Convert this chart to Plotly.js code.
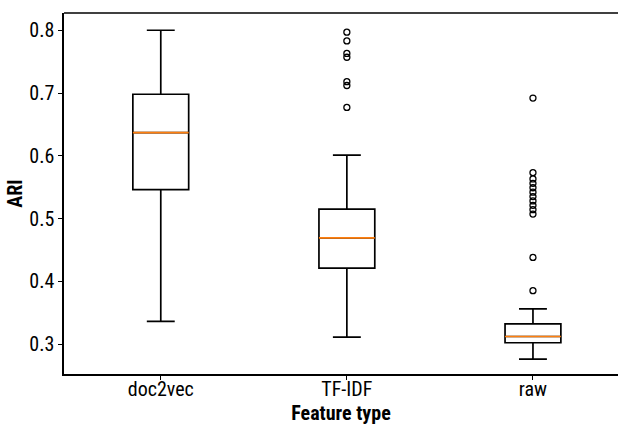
<!DOCTYPE html>
<html>
<head>
<meta charset="utf-8">
<script src="https://cdn.plot.ly/plotly-3.0.1.min.js"></script>
<style>html,body{margin:0;padding:0;background:#fff;}#chart{width:618px;height:426px;}</style>
</head>
<body>
<div id="chart"></div>
<script>
// Data
var categories = ['doc2vec', 'TF-IDF', 'raw'];
var lowerWhisker = [0.336, 0.311, 0.276];
var q1Values = [0.546, 0.421, 0.302];
var medianValues = [0.637, 0.469, 0.312];
var q3Values = [0.698, 0.515, 0.332];
var upperWhisker = [0.800, 0.601, 0.356];
var outliersDoc2vec = [];
var outliersTfidf = [0.797, 0.783, 0.763, 0.757, 0.718, 0.712, 0.677];
var outliersRaw = [0.692, 0.573, 0.563, 0.556, 0.549, 0.542, 0.535, 0.528, 0.521, 0.514, 0.507, 0.438, 0.385];
var yTicks = [0.3, 0.4, 0.5, 0.6, 0.7, 0.8];

var FONT = '"Liberation Sans Narrow", "Roboto Condensed", Roboto, Arial, sans-serif';

var outX = [], outY = [];
[outliersDoc2vec, outliersTfidf, outliersRaw].forEach(function (arr, i) {
  arr.forEach(function (v) { outX.push(categories[i]); outY.push(v); });
});

var traces = [
  {
    type: 'box', x: categories,
    q1: q1Values, median: medianValues, q3: q3Values,
    lowerfence: lowerWhisker, upperfence: upperWhisker,
    width: 0.3, whiskerwidth: 0.5, boxpoints: false,
    line: {color: '#000', width: 1.7}, fillcolor: 'rgba(0,0,0,0)',
    hoverinfo: 'skip', showlegend: false
  },
  {
    type: 'box', x: categories,
    q1: medianValues, median: medianValues, q3: medianValues,
    lowerfence: medianValues, upperfence: medianValues,
    width: 0.3, whiskerwidth: 0, boxpoints: false,
    line: {color: '#ff7f0e', width: 1.7}, fillcolor: 'rgba(0,0,0,0)',
    hoverinfo: 'skip', showlegend: false
  },
  {
    type: 'scatter', mode: 'markers', x: outX, y: outY,
    marker: {symbol: 'circle-open', size: 6, color: '#000', line: {width: 1.3, color: '#000'}},
    hoverinfo: 'skip', showlegend: false
  }
];

var layout = {
  width: 618, height: 426,
  margin: {l: 64, r: 0, t: 13, b: 52},
  paper_bgcolor: '#fff', plot_bgcolor: '#fff',
  boxmode: 'overlay',
  font: {family: FONT, size: 20, color: '#000'},
  xaxis: {
    type: 'category', categoryorder: 'array', categoryarray: categories,
    range: [-0.52, 2.457],
    showgrid: false, zeroline: false,
    showline: true, linecolor: '#000', linewidth: 1.7,
    ticks: 'outside', ticklen: 4, tickwidth: 1, tickcolor: '#000',
    ticklabelstandoff: -8,
    tickfont: {family: FONT, size: 20, color: '#000'},
    title: {text: '<b>Feature type</b>', font: {family: FONT, size: 20, color: '#000'}, standoff: 2}
  },
  yaxis: {
    range: [0.2522, 0.8275],
    tickvals: yTicks, ticktext: yTicks.map(function (v) { return v.toFixed(1); }),
    showgrid: false, zeroline: false,
    showline: true, linecolor: '#000', linewidth: 1.7,
    ticks: 'outside', ticklen: 4, tickwidth: 1, tickcolor: '#000',
    tickfont: {family: FONT, size: 20, color: '#000'},
    title: {text: '<b>ARI</b>', font: {family: FONT, size: 20, color: '#000'}, standoff: 1}
  },
  shapes: [
    {type: 'line', xref: 'paper', yref: 'paper', x0: 0, x1: 1, y0: 1, y1: 1, line: {color: '#000', width: 1.7}}
  ]
};

Plotly.newPlot('chart', traces, layout, {displayModeBar: false, staticPlot: true});
</script>
</body>
</html>
